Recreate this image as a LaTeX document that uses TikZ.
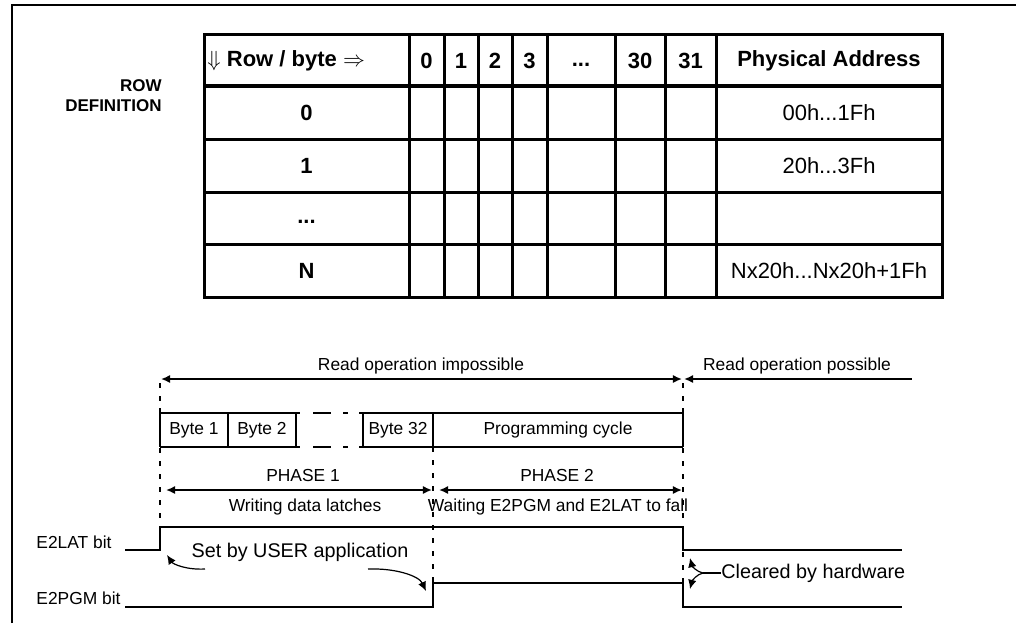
\documentclass[tikz,border=0pt]{standalone}
\usepackage{fontspec}
\setmainfont{Liberation Sans}
\usetikzlibrary{arrows.meta}
\begin{document}
\begin{tikzpicture}[x=0.5pt,y=-0.5pt,
  >={Latex[length=4.6pt,width=4.2pt]},
  tline/.style={line width=1.5pt},
  hsep/.style={line width=2.2pt},
  sig/.style={line width=1pt},
  fine/.style={line width=0.6pt},
  vdash/.style={line width=1.1pt,dash pattern=on 2.5pt off 4pt},
  cellb/.style={font=\fontsize{11}{13}\selectfont\bfseries,inner sep=0pt},
  cellr/.style={font=\fontsize{11}{13}\selectfont,inner sep=0pt},
  lbl/.style={font=\fontsize{8.5}{10}\selectfont\bfseries,inner sep=0pt},
  small/.style={font=\fontsize{8.7}{10}\selectfont,inner sep=0pt},
  mid/.style={font=\fontsize{9.9}{12}\selectfont,inner sep=0pt}]
\useasboundingbox (0,0) rectangle (1016,623);
% frame
\draw[line width=1.4pt] (12,623) -- (12,5) -- (1016,5);
% row definition
\node[lbl,anchor=east] (rowa) at (162,86) {ROW};
\node[lbl,anchor=east] (rowb) at (162,106) {DEFINITION};
% table grid
\draw[tline] (204,34) rectangle (942,297);
\foreach \xx in {409,444,478,512,547,615,665,716}{\draw[tline] (\xx,34) -- (\xx,297);}
\foreach \yy in {139,192,244}{\draw[tline] (204,\yy) -- (942,\yy);}
\draw[hsep] (204,86) -- (942,86);
% header
\node[cellb,anchor=west] (hrow) at (207,61) {$\Downarrow$ Row / byte $\Rightarrow$};
\node[cellb] (h0) at (426.5,61) {0};
\node[cellb] (h1) at (461,61) {1};
\node[cellb] (h2) at (495,61) {2};
\node[cellb] (h3) at (529.5,61) {3};
\node[cellb] (hd) at (581,65) {...};
\node[cellb] (h30) at (640,61) {30};
\node[cellb] (h31) at (690.5,61) {31};
\node[cellb] (hpa) at (829,61) {Physical Address};
% rows
\node[cellb] (r0) at (306.5,112.5) {0};
\node[cellb] (r1) at (306.5,165.5) {1};
\node[cellb] (rd) at (306.5,222) {...};
\node[cellb] (rn) at (306.5,270.5) {N};
\node[cellr] (a0) at (829,112.5) {00h...1Fh};
\node[cellr] (a1) at (829,165.5) {20h...3Fh};
\node[cellr] (an) at (829,270.5) {Nx20h...Nx20h+1Fh};
% read operation
\node[small] (rimp) at (421,366) {Read operation impossible};
\node[small] (rpos) at (797,366) {Read operation possible};
\coordinate (ri1) at (161,379); \coordinate (ri2) at (682,379);
\coordinate (rp1) at (684,379); \coordinate (rp2) at (912,379);
\draw[sig,<->] (ri1) -- (ri2);
\draw[sig,<-] (rp1) -- (rp2);
% dashed markers
\draw[vdash] (160,383) -- (160,527);
\draw[vdash] (433,447) -- (433,583);
\draw[vdash] (683,383) -- (683,583);
% byte boxes
\draw[sig] (160,408) -- (160,447);
\draw[sig] (683,408) -- (683,447);
\foreach \yy in {413,447}{
  \draw[sig] (160,\yy) -- (300,\yy);
  \draw[sig] (313,\yy) -- (331,\yy);
  \draw[sig] (343,\yy) -- (348,\yy);
  \draw[sig] (359,\yy) -- (683,\yy);
}
\foreach \xx in {228,296,363,433}{\draw[sig] (\xx,413) -- (\xx,447);}
\node[small] (b1) at (194,430) {Byte 1};
\node[small] (b2) at (262,430) {Byte 2};
\node[small] (b32) at (398,430) {Byte 32};
\node[small] (prog) at (558,430) {Programming cycle};
% phases
\node[small] (ph1) at (303,475) {PHASE 1};
\node[small] (ph2) at (557,475) {PHASE 2};
\coordinate (p1a) at (166,490); \coordinate (p1b) at (432,490);
\coordinate (p2a) at (439,490); \coordinate (p2b) at (682,490);
\draw[sig,<->] (p1a) -- (p1b);
\draw[sig,<->] (p2a) -- (p2b);
\node[small] (wdl) at (305,507) {Writing data latches};
\node[small] (wait) at (558,507) {Waiting E2PGM and E2LAT to fall};
% signals
\node[small,anchor=west] (lat) at (36,542) {E2LAT bit};
\node[small,anchor=west] (pgm) at (36,598) {E2PGM bit};
\draw[sig] (125,550) -- (160,550) -- (160,527) -- (683,527) -- (683,550) -- (902,550);
\draw[sig] (125,607) -- (433,607) -- (433,583) -- (683,583) -- (683,607) -- (902,607);
% annotations
\node[mid] (setu) at (300,552) {Set by USER application};
\coordinate (s1) at (205,569); \coordinate (t1) at (167,555);
\coordinate (s2) at (368,569); \coordinate (t2) at (426,591);
\draw[fine,->] (s1) .. controls (186,570) and (173,564) .. (t1);
\draw[fine,->] (s2) .. controls (396,568) and (419,576) .. (t2);
\node[mid,anchor=west] (clr) at (721,573) {Cleared by hardware};
\coordinate (fork) at (703,573);
\coordinate (t3) at (690,558); \coordinate (t4) at (690,589);
\draw[fine] (clr.west) -- (fork);
\draw[fine,->] (fork) .. controls (697,572) and (692,566) .. (t3);
\draw[fine,->] (fork) .. controls (697,574) and (692,581) .. (t4);
\end{tikzpicture}
\end{document}
